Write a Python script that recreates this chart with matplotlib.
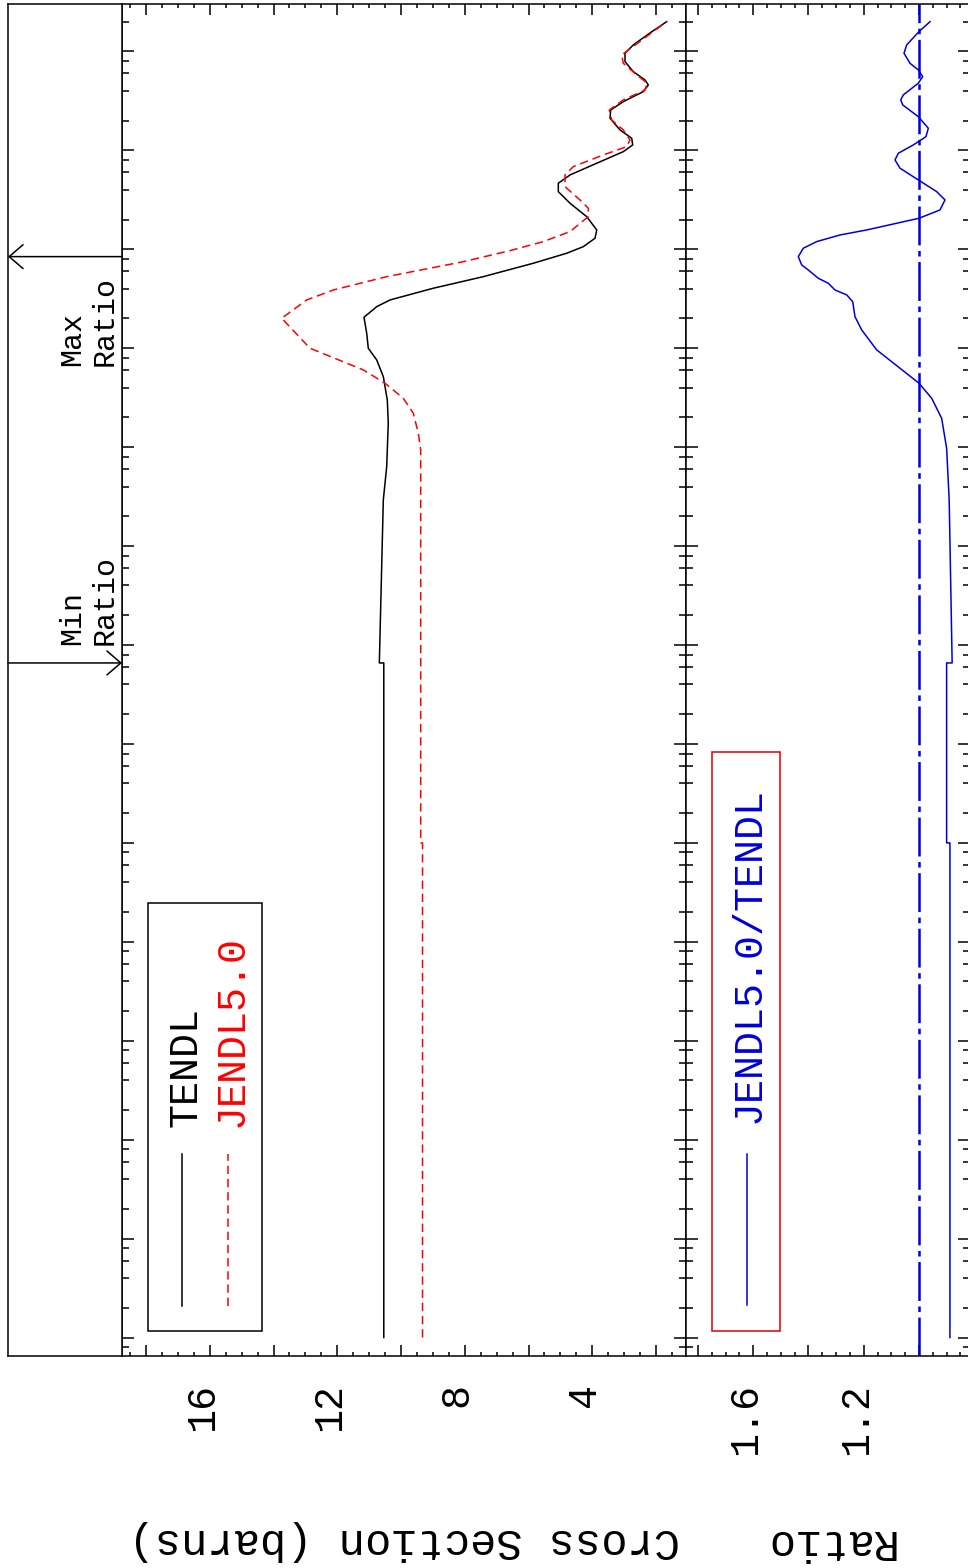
import numpy as np
import matplotlib
matplotlib.use('Agg')
import matplotlib.pyplot as plt
import matplotlib.transforms as mtransforms
from matplotlib.patches import Rectangle
from matplotlib.lines import Line2D
from matplotlib.ticker import FixedLocator, MultipleLocator, LogLocator, NullFormatter

# ---- data (energy in eV, cross section in barns) ----
tendl_e = [1e-5, 65.9, 65.9, 2927, 6353, 17570, 30020, 51630, 76150, 1.0e5, 1.418e5,
           2.058e5, 2.634e5, 3.078e5, 4.043e5, 5.294e5, 7.233e5, 9.13e5, 1.064e6,
           1.294e6, 1.570e6, 2.140e6, 2.924e6, 3.830e6, 4.656e6, 5.648e6, 7.419e6,
           9.716e6, 1.136e7, 1.327e7, 1.610e7, 2.114e7, 2.564e7, 3.112e7, 3.927e7,
           4.589e7, 5.157e7, 6.256e7, 7.896e7, 9.598e7, 1.165e8, 1.540e8, 2.003e8]
tendl_xs = [10.54, 10.54, 10.68, 10.555, 10.449, 10.399, 10.430, 10.555, 10.762, 11.026,
            11.076, 11.161, 10.762, 10.345, 8.987, 7.418, 5.849, 4.802, 4.281, 3.914,
            3.860, 4.174, 4.698, 5.065, 5.065, 4.698, 3.860, 3.026, 2.731, 2.762, 3.129,
            3.443, 3.421, 3.026, 2.398, 2.242, 2.345, 2.712, 2.973, 2.973, 2.712, 2.188,
            1.664]

jendl_e = [1e-5, 1.0, 1.0, 2927, 9370, 13830, 22030, 31200, 44300, 60400, 1.0e5,
           2.010e5, 3.078e5, 3.882e5, 5.294e5, 7.50e5, 9.70e5, 1.197e6, 1.510e6,
           2.140e6, 2.602e6, 3.155e6, 4.303e6, 5.648e6, 6.855e6, 8.995e6, 1.092e7,
           1.276e7, 1.610e7, 2.032e7, 2.564e7, 3.24e7, 4.08e7, 4.78e7, 5.79e7, 7.60e7,
           9.23e7, 1.119e8, 2.003e8]
jendl_xs = [9.325, 9.325, 9.382, 9.382, 9.382, 9.457, 9.614, 9.928, 10.502, 11.183,
            12.855, 13.743, 12.958, 12.124, 10.449, 8.045, 6.580, 5.536, 4.698, 4.124,
            4.124, 4.384, 4.855, 4.855, 4.595, 3.653, 2.919, 2.816, 3.026, 3.390, 3.465,
            3.026, 2.345, 2.273, 2.605, 3.026, 3.076, 2.722, 1.664]

ratio_e = [1e-5, 1.0, 1.0, 65.9, 65.9, 2927, 9750, 19600, 31200, 44300, 62800, 96200,
           1.531e5, 2.086e5, 2.958e5, 3.459e5, 3.882e5, 4.54e5, 5.10e5, 6.18e5, 6.95e5,
           8.44e5, 1.026e6, 1.197e6, 1.397e6, 1.570e6, 2.061e6, 2.50e6, 3.155e6,
           3.830e6, 5.03e6, 6.61e6, 8.01e6, 9.36e6, 1.136e7, 1.377e7, 1.675e7, 2.193e7,
           2.884e7, 3.24e7, 3.64e7, 4.78e7, 5.57e7, 6.51e7, 7.60e7, 9.598e7, 1.165e8,
           1.589e8, 2.003e8]
ratio_val = [0.888, 0.888, 0.900, 0.900, 0.880, 0.8907, 0.900, 0.918, 0.954, 1.0, 1.0688,
             1.1531, 1.2074, 1.2317, 1.240, 1.2615, 1.3041, 1.3283, 1.3645, 1.4007,
             1.4246, 1.4369, 1.4188, 1.3703, 1.286, 1.1893, 1.0, 0.9240, 0.9059, 0.9359,
             1.0025, 1.0688, 1.0869, 1.0749, 1.0206, 0.9747, 0.9663, 1.0025, 1.059,
             1.0662, 1.0568, 1.0025, 0.9866, 1.0025, 1.0326, 1.0543, 1.0445, 1.0, 0.960]

xs_labels = [16, 12, 8, 4]
ratio_labels = [1.6, 1.2]
e_max_ratio = 8.44e5
e_min_ratio = 65.9

# ---- layout helpers (pixel based, 100 dpi) ----
W, H = 968, 1568
plt.rcParams['font.family'] = ['Liberation Mono', 'DejaVu Sans Mono']
plt.rcParams['lines.scale_dashes'] = False
BLUE = '#0000dd'
LW = 1.1


def rect(l, t, r, b):
    return [l / W, 1 - b / H, (r - l) / W, (b - t) / H]


def fx(x):
    return x / W


def fy(y):
    return 1 - y / H


fig = plt.figure(figsize=(W / 100, H / 100), dpi=100)
ax = fig.add_axes(rect(122, 4, 686, 1356))
ax_box = fig.add_axes(rect(8, 4, 122, 1356), sharey=ax)
ax_r = fig.add_axes(rect(686, 4, 969.5, 1356), sharey=ax)

ax.set_yscale('log')
ax.set_ylim(10 ** -5.187, 10 ** 8.480)

# main panel
ax.plot(tendl_xs, tendl_e, color='black', lw=LW)
ax.plot(jendl_xs, jendl_e, color='red', lw=LW, linestyle=(0, (6, 3.5)))
ax.set_xlim(18.753, 1.059)

# ratio panel
ax_r.axvline(1.0, color=BLUE, lw=1.8, linestyle=(0, (28, 4, 4, 4)))
ax_r.plot(ratio_val, ratio_e, color=BLUE, lw=LW)
ax_r.set_xlim(1.8434, 0.8172)

for a in (ax, ax_box, ax_r):
    for s in a.spines.values():
        s.set_linewidth(LW)

ax.xaxis.set_major_locator(FixedLocator(np.arange(2, 19, 2)))
ax.xaxis.set_minor_locator(MultipleLocator(0.5))
ax_r.xaxis.set_major_locator(FixedLocator([1.0, 1.2, 1.4, 1.6, 1.8]))
ax_r.xaxis.set_minor_locator(MultipleLocator(0.05))
ax.yaxis.set_major_locator(LogLocator(base=10, numticks=30))
ax.yaxis.set_minor_locator(LogLocator(base=10, subs=(2, 4, 6, 8), numticks=30))
ax.yaxis.set_minor_formatter(NullFormatter())

for a in (ax, ax_r):
    a.tick_params(which='both', direction='in', top=True, bottom=True, left=True,
                  right=True, labelleft=False, labelbottom=False, width=LW)
    a.tick_params(axis='y', which='major', length=8.4)
    a.tick_params(axis='y', which='minor', length=5)
    a.tick_params(axis='x', which='major', length=7.8)
    a.tick_params(axis='x', which='minor', length=2.8)
ax_box.tick_params(which='both', left=False, right=False, top=False, bottom=False,
                   labelleft=False, labelbottom=False)
ax_box.set_xlim(0, 1)

# tick labels (rotated page)
shift = mtransforms.ScaledTranslation(3 / 100, 0, fig.dpi_scale_trans)
tr_main = mtransforms.blended_transform_factory(ax.transData, fig.transFigure) + shift
tr_rat = mtransforms.blended_transform_factory(ax_r.transData, fig.transFigure) + shift
for v in xs_labels:
    ax.text(v, fy(1383), str(v), transform=tr_main, rotation=90, rotation_mode='anchor',
            ha='right', va='baseline', fontsize=28.8, clip_on=False)
for v in ratio_labels:
    ax_r.text(v, fy(1383), f'{v:.1f}', transform=tr_rat, rotation=90,
              rotation_mode='anchor', ha='right', va='baseline', fontsize=28.8,
              clip_on=False)

fig.text(fx(404), fy(1541), 'Cross Section (barns)', rotation=180, ha='center',
         va='center', fontsize=31.5)
fig.text(fx(827.5), fy(1541), 'Ratio', rotation=180, ha='center', va='center',
         fontsize=31.5)

# legends
fig.add_artist(Rectangle((fx(148.3), fy(1331)), (261.7 - 148.3) / W, (1331 - 902.7) / H,
                         transform=fig.transFigure, fill=False, edgecolor='black', lw=LW))
fig.add_artist(Line2D([fx(181.7)] * 2, [fy(1306), fy(1154)], color='black', lw=LW,
                      transform=fig.transFigure))
fig.add_artist(Line2D([fx(227.7)] * 2, [fy(1306), fy(1154)], color='red', lw=LW,
                      linestyle=(0, (6, 3.5)), transform=fig.transFigure))
fig.text(fx(197), fy(1127), 'TENDL', rotation=90, rotation_mode='anchor', ha='left',
         va='baseline', fontsize=28.8, color='black')
fig.text(fx(243), fy(1127), 'JENDL5.0', rotation=90, rotation_mode='anchor', ha='left',
         va='baseline', fontsize=28.8, color='red')

fig.add_artist(Rectangle((fx(712.3), fy(1331)), (780 - 712.3) / W, (1331 - 751.5) / H,
                         transform=fig.transFigure, fill=False, edgecolor='#e00000', lw=LW))
fig.add_artist(Line2D([fx(746.7)] * 2, [fy(1305), fy(1154)], color=BLUE, lw=LW,
                      transform=fig.transFigure))
fig.text(fx(760), fy(1123), 'JENDL5.0/TENDL', rotation=90, rotation_mode='anchor',
         ha='left', va='baseline', fontsize=28.8, color=BLUE)

# min / max ratio markers
arrow = dict(arrowstyle='->,head_length=10,head_width=8.6', mutation_scale=1,
             shrinkA=0, shrinkB=0, lw=LW, color='black')
ax_box.annotate('', xy=(0, e_max_ratio), xytext=(1, e_max_ratio), arrowprops=arrow,
                annotation_clip=False)
ax_box.annotate('', xy=(1, e_min_ratio), xytext=(0, e_min_ratio), arrowprops=arrow,
                annotation_clip=False)
for txt, xb, ys in [('Max', 80, 366), ('Ratio', 113, 366), ('Min', 80, 645),
                    ('Ratio', 113, 645)]:
    fig.text(fx(xb), fy(ys), txt, rotation=90, rotation_mode='anchor', ha='left',
             va='baseline', fontsize=21.6)

fig.savefig('out.png', dpi=100)
